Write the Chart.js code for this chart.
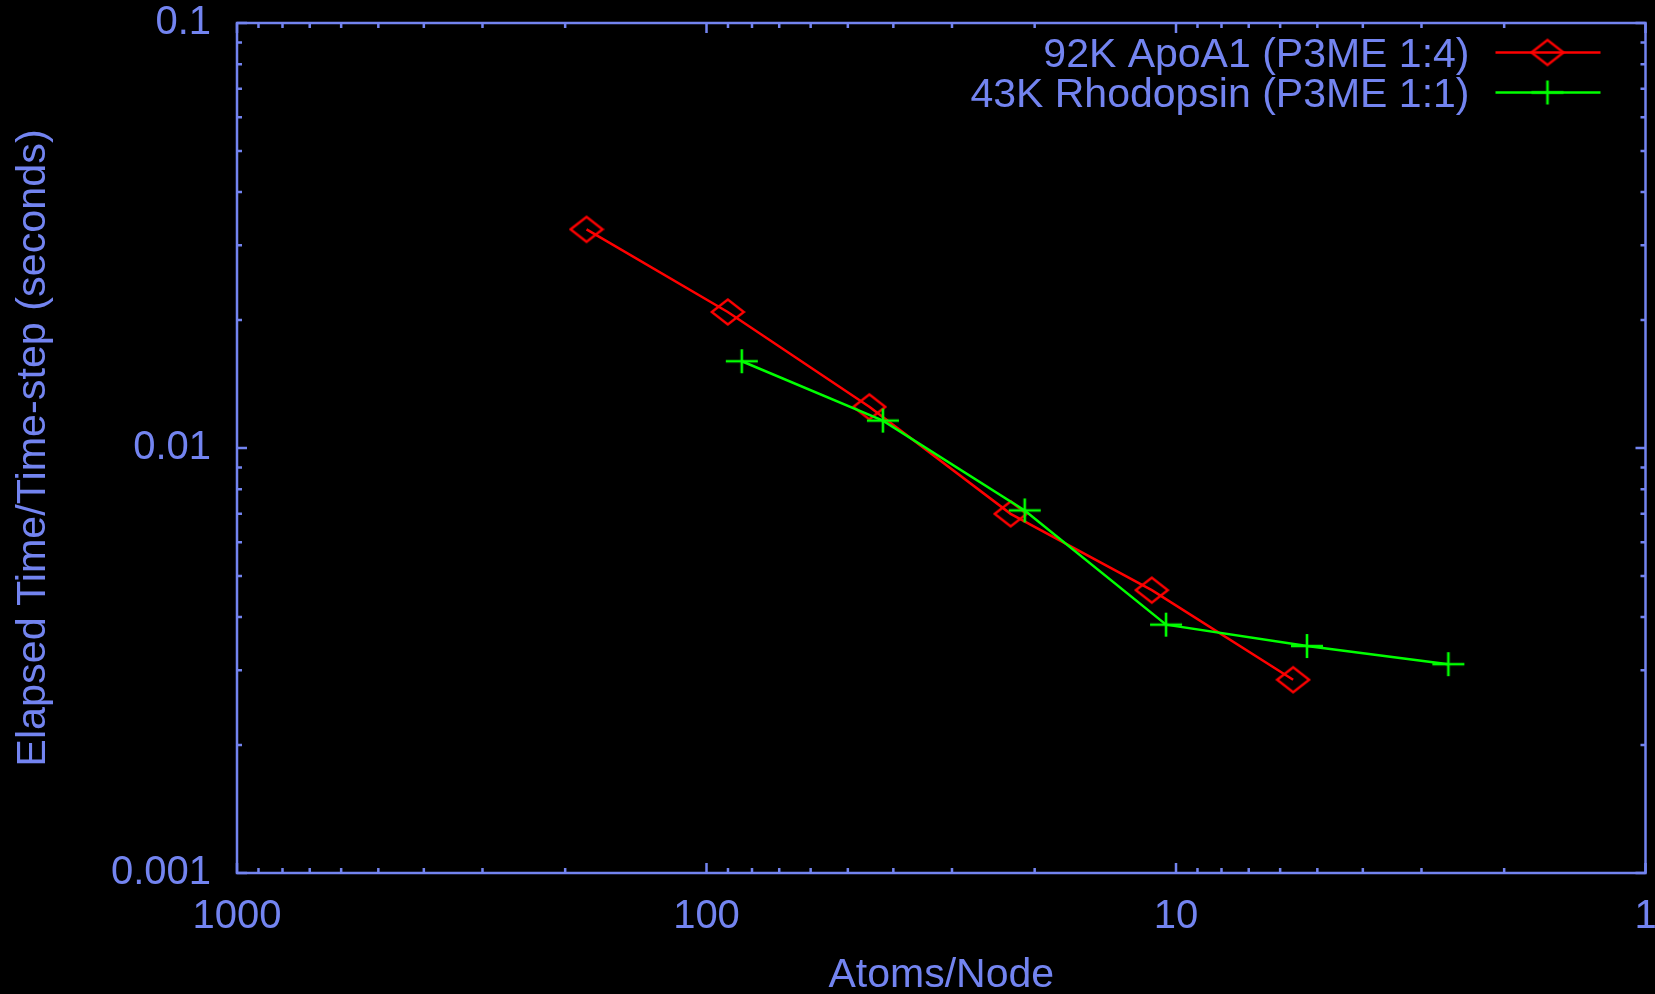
<!DOCTYPE html>
<html>
<head>
<meta charset="utf-8">
<title>Atoms/Node scaling</title>
<script src="https://cdn.jsdelivr.net/npm/chart.js@4.4.1/dist/chart.umd.min.js"></script>
<style>
    html, body { margin: 0; padding: 0; background: #000; overflow: hidden; }
    canvas { display: block; }
</style>
</head>
<body>
<!-- a few px wider than the window: the "1" label keeps Chart.js from reaching the right edge otherwise -->
<canvas id="chart" width="1660" height="994"></canvas>
<script>
const AXIS_COLOR = '#7384f0';
const RED = '#ff0000';
const GREEN = '#00ff00';
const FONT = "'Liberation Sans', Arial, sans-serif";

// data
const apoaLabel = '92K ApoA1 (P3ME 1:4)';
const apoaAtomsPerNode = [180.1, 90.1, 45.0, 22.5, 11.26, 5.63];
const apoaSeconds = [0.0327, 0.0209, 0.0125, 0.0070, 0.00463, 0.00285];

const rhodLabel = '43K Rhodopsin (P3ME 1:1)';
const rhodAtomsPerNode = [84.1, 42.1, 21.0, 10.5, 5.26, 2.63];
const rhodSeconds = [0.0160, 0.0116, 0.00713, 0.00384, 0.00342, 0.00310];

const xTicks = [1, 10, 100, 1000];
const yTicks = [0.001, 0.01, 0.1];

const toPoints = (xs, ys) => xs.map((x, i) => ({x: x, y: ys[i]}));

function makeDiamond(color) {
    const c = document.createElement('canvas');
    c.width = 36;
    c.height = 30;
    const g = c.getContext('2d');
    g.strokeStyle = color;
    g.lineWidth = 2.4;
    g.beginPath();
    g.moveTo(2, 15);
    g.lineTo(18, 2.5);
    g.lineTo(34, 15);
    g.lineTo(18, 27.5);
    g.closePath();
    g.stroke();
    return c;
}

function makePlus(color) {
    const c = document.createElement('canvas');
    c.width = 36;
    c.height = 30;
    const g = c.getContext('2d');
    g.strokeStyle = color;
    g.lineWidth = 2.6;
    g.beginPath();
    g.moveTo(2, 15);
    g.lineTo(34, 15);
    g.moveTo(18, 3);
    g.lineTo(18, 27);
    g.stroke();
    return c;
}

// gnuplot style frame: border on all sides, ticks pointing inwards, mirrored
const framePlugin = {
    id: 'frame',
    beforeDraw(chart) {
        const ctx = chart.ctx;
        ctx.save();
        ctx.fillStyle = '#000';
        ctx.fillRect(0, 0, chart.width, chart.height);
        ctx.restore();
    },
    beforeDatasetsDraw(chart) {
        const {ctx, chartArea: a, scales} = chart;
        const major = 10, minor = 5;
        ctx.save();
        ctx.strokeStyle = AXIS_COLOR;
        ctx.lineWidth = 2.5;
        ctx.beginPath();

        for (let e = 0; e <= 3; e++) {
            for (let k = 1; k <= 9; k++) {
                const v = k * Math.pow(10, e);
                if (v > 1000) break;
                const px = scales.x.getPixelForValue(v);
                const len = k === 1 ? major : minor;
                ctx.moveTo(px, a.bottom);
                ctx.lineTo(px, a.bottom - len);
                ctx.moveTo(px, a.top);
                ctx.lineTo(px, a.top + len);
            }
        }
        for (let e = -3; e <= -1; e++) {
            for (let k = 1; k <= 9; k++) {
                const v = k * Math.pow(10, e);
                if (v > 0.1 + 1e-9) break;
                const py = scales.y.getPixelForValue(v);
                const len = k === 1 ? major : minor;
                ctx.moveTo(a.left, py);
                ctx.lineTo(a.left + len, py);
                ctx.moveTo(a.right, py);
                ctx.lineTo(a.right - len, py);
            }
        }
        ctx.stroke();
        ctx.strokeRect(a.left, a.top, a.right - a.left, a.bottom - a.top);
        ctx.restore();
    }
};

// legend in the top right corner: text, then line sample with marker
const legendPlugin = {
    id: 'keyBox',
    afterDraw(chart) {
        const {ctx, chartArea: a} = chart;
        const size = 41;
        ctx.save();
        ctx.font = size + 'px ' + FONT;
        ctx.textAlign = 'right';
        ctx.textBaseline = 'alphabetic';
        chart.data.datasets.forEach((ds, i) => {
            const y = a.top + 29.5 + i * 40;
            ctx.fillStyle = AXIS_COLOR;
            ctx.fillText(ds.label, a.right - 176, y + size * 0.358);
            ctx.strokeStyle = ds.borderColor;
            ctx.lineWidth = 2.5;
            ctx.beginPath();
            ctx.moveTo(a.right - 150, y);
            ctx.lineTo(a.right - 45, y);
            ctx.stroke();
            const img = ds.pointStyle;
            ctx.drawImage(img, a.right - 98 - img.width / 2, y - img.height / 2);
        });
        ctx.restore();
    }
};

class ScalingChart {
    constructor() {
        this.init();
    }

    init() {
        Chart.defaults.font.family = FONT;
        Chart.defaults.color = AXIS_COLOR;
        this.initChart();
    }

    initChart() {
        const ctx = document.getElementById('chart').getContext('2d');
        this.chart = new Chart(ctx, {
            type: 'scatter',
            data: {
                datasets: [{
                    label: apoaLabel,
                    data: toPoints(apoaAtomsPerNode, apoaSeconds),
                    showLine: true,
                    borderColor: RED,
                    borderWidth: 2.5,
                    pointStyle: makeDiamond(RED),
                    pointRadius: 12,
                    order: 1,
                }, {
                    label: rhodLabel,
                    data: toPoints(rhodAtomsPerNode, rhodSeconds),
                    showLine: true,
                    borderColor: GREEN,
                    borderWidth: 2.5,
                    pointStyle: makePlus(GREEN),
                    pointRadius: 12,
                    order: 0,
                }]
            },
            options: {
                responsive: false,
                devicePixelRatio: 1,
                animation: false,
                layout: {
                    padding: {left: 0, right: 11, top: 23, bottom: 0}
                },
                plugins: {
                    legend: {display: false},
                    tooltip: {enabled: false},
                },
                scales: {
                    x: {
                        type: 'logarithmic',
                        reverse: true,
                        min: 1,
                        max: 1000,
                        grid: {display: false},
                        border: {display: false},
                        afterBuildTicks: scale => {
                            scale.ticks = xTicks.map(v => ({value: v}));
                        },
                        afterFit: scale => {
                            scale.height = 121;
                            scale.paddingLeft = 0;
                            scale.paddingRight = 0;
                        },
                        ticks: {
                            color: AXIS_COLOR,
                            font: {size: 40},
                            padding: 12,
                            autoSkip: false,
                            maxRotation: 0,
                            callback: value => String(value),
                        },
                        title: {
                            display: true,
                            text: 'Atoms/Node',
                            color: AXIS_COLOR,
                            font: {size: 41, lineHeight: 1},
                            padding: {top: 0, bottom: -2},
                        }
                    },
                    y: {
                        type: 'logarithmic',
                        min: 0.001,
                        max: 0.1,
                        grid: {display: false},
                        border: {display: false},
                        afterBuildTicks: scale => {
                            scale.ticks = yTicks.map(v => ({value: v}));
                        },
                        afterFit: scale => {
                            scale.width = 237;
                            scale.paddingTop = 0;
                            scale.paddingBottom = 0;
                        },
                        ticks: {
                            color: AXIS_COLOR,
                            font: {size: 40},
                            padding: 18,
                            autoSkip: false,
                            callback: value => String(value),
                        },
                        title: {
                            display: true,
                            text: 'Elapsed Time/Time-step (seconds)',
                            color: AXIS_COLOR,
                            font: {size: 41.3, lineHeight: 1},
                            padding: {top: 13, bottom: 0},
                        }
                    }
                }
            },
            plugins: [framePlugin, legendPlugin]
        });
    }
}

new ScalingChart();
</script>
</body>
</html>
